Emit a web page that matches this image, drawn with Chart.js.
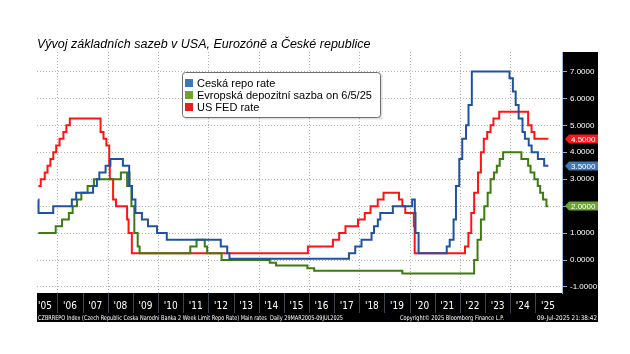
<!DOCTYPE html>
<html><head><meta charset="utf-8">
<script src="https://cdn.jsdelivr.net/npm/chart.js@4.4.1/dist/chart.umd.min.js"></script>
<style>html,body{margin:0;padding:0;background:#fff;overflow:hidden}#wrap{width:630px;height:354px;position:relative}canvas{display:block}</style>
</head><body><div id="wrap"><canvas id="c" width="630" height="354"></canvas></div>
<script>
const titleText = "Vývoj základních sazeb v USA, Eurozóně a České republice";
const seriesLabels = ["Ceská repo rate", "Evropská depozitní sazba on 6/5/25", "US FED rate"];

const czDates = ["2005-03-29","2005-04-01","2005-10-31","2006-07-28","2006-09-29","2007-06-01","2007-07-27","2007-08-31","2007-11-30","2008-02-08","2008-08-08","2008-11-07","2008-12-18","2009-02-06","2009-05-11","2009-08-07","2009-12-17","2010-05-07","2012-06-29","2012-10-01","2012-11-02","2017-08-04","2017-11-03","2018-02-02","2018-06-28","2018-08-03","2018-09-27","2018-11-02","2019-05-03","2020-02-07","2020-03-17","2020-03-27","2020-05-11","2021-06-24","2021-08-06","2021-10-01","2021-11-05","2021-12-23","2022-02-04","2022-03-31","2022-05-06","2022-06-23","2023-12-22","2024-02-09","2024-03-21","2024-05-03","2024-06-28","2024-08-02","2024-09-27","2024-11-08","2025-02-07","2025-05-09","2025-07-09"];
const czRates = [2.25,1.75,2.00,2.25,2.50,2.75,3.00,3.25,3.50,3.75,3.50,2.75,2.25,1.75,1.50,1.25,1.00,0.75,0.50,0.25,0.05,0.25,0.50,0.75,1.00,1.25,1.50,1.75,2.00,2.25,1.75,1.00,0.25,0.50,0.75,1.50,2.75,3.75,4.50,5.00,5.75,7.00,6.75,6.25,5.75,5.25,4.75,4.50,4.25,4.00,3.75,3.50,3.50];

const euDates = ["2005-03-29","2005-12-06","2006-03-08","2006-06-15","2006-08-09","2006-10-11","2006-12-13","2007-03-14","2007-06-13","2008-07-09","2008-10-08","2008-10-09","2008-11-12","2008-12-10","2009-01-21","2009-03-11","2009-04-08","2011-04-13","2011-07-13","2011-11-09","2011-12-14","2012-07-11","2014-06-11","2014-09-10","2015-12-09","2016-03-16","2019-09-18","2022-07-27","2022-09-14","2022-11-02","2022-12-21","2023-02-08","2023-03-22","2023-05-10","2023-06-21","2023-08-02","2023-09-20","2024-06-12","2024-09-18","2024-10-23","2024-12-18","2025-02-05","2025-03-12","2025-04-23","2025-06-11","2025-07-09"];
const euRates = [1.00,1.25,1.50,1.75,2.00,2.25,2.50,2.75,3.00,3.25,2.75,3.25,2.75,2.00,1.00,0.50,0.25,0.50,0.75,0.50,0.25,0.00,-0.10,-0.20,-0.30,-0.40,-0.50,0.00,0.75,1.50,2.00,2.50,3.00,3.25,3.50,3.75,4.00,3.75,3.50,3.25,3.00,2.75,2.50,2.25,2.00,2.00];

const usDates = ["2005-03-29","2005-05-03","2005-06-30","2005-08-09","2005-09-20","2005-11-01","2005-12-13","2006-01-31","2006-03-28","2006-05-10","2006-06-29","2007-09-18","2007-10-31","2007-12-11","2008-01-22","2008-01-30","2008-03-18","2008-04-30","2008-10-08","2008-10-29","2008-12-16","2015-12-16","2016-12-14","2017-03-15","2017-06-14","2017-12-13","2018-03-21","2018-06-13","2018-09-26","2018-12-19","2019-07-31","2019-09-18","2019-10-30","2020-03-03","2020-03-15","2022-03-16","2022-05-04","2022-06-15","2022-07-27","2022-09-21","2022-11-02","2022-12-14","2023-02-01","2023-03-22","2023-05-03","2023-07-26","2024-09-18","2024-11-07","2024-12-18","2025-07-09"];
const usRates = [2.75,3.00,3.25,3.50,3.75,4.00,4.25,4.50,4.75,5.00,5.25,4.75,4.50,4.25,3.50,3.00,2.25,2.00,1.50,1.00,0.25,0.50,0.75,1.00,1.25,1.50,1.75,2.00,2.25,2.50,2.25,2.00,1.75,1.25,0.25,0.50,1.00,1.75,2.50,3.25,4.00,4.50,4.75,5.00,5.25,5.50,5.00,4.75,4.50,4.50];

const yTicks = [-1, 0, 1, 2, 3, 4, 5, 6, 7];
const yearLabels = ["'05","'06","'07","'08","'09","'10","'11","'12","'13","'14","'15","'16","'17","'18","'19","'20","'21","'22","'23","'24","'25"];
const yearLabelPos = [2005.5,2006.5,2007.5,2008.5,2009.5,2010.5,2011.5,2012.5,2013.5,2014.5,2015.5,2016.5,2017.5,2018.5,2019.5,2020.5,2021.5,2022.5,2023.5,2024.5,2025.5];
const gridYears = [2006,2008,2010,2012,2014,2016,2018,2020,2022,2024];
const yearBounds = [2006,2007,2008,2009,2010,2011,2012,2013,2014,2015,2016,2017,2018,2019,2020,2021,2022,2023,2024,2025];
const footerLeft = "CZBRREPO Index (Czech Republic Ceska Narodni Banka 2 Week Limit Repo Rate) Main rates  Daily 29MAR2005-09JUL2025";
const footerMid = "Copyright\u00A9 2025 Bloomberg Finance L.P.";
const footerRight = "09-Jul-2025 21:38:42";

const lineColors = ["#1f52a3", "#3d7c10", "#ff1414"];
const tagColors = ["#3b77b9", "#6aa52c", "#f01c1c"];
const NARROW = "'Liberation Sans Narrow','DejaVu Sans Condensed','Liberation Sans',sans-serif";
const SANS = "'Liberation Sans',Arial,sans-serif";

function toYear(s) {
  const [y, m, d] = s.split('-').map(Number);
  const a = Date.UTC(y, 0, 1), b = Date.UTC(y + 1, 0, 1);
  return y + (Date.UTC(y, m - 1, d) - a) / (b - a);
}
function pts(dates, rates) { return dates.map((d, i) => ({ x: toYear(d), y: rates[i] })); }

const deco = {
  id: 'deco',
  beforeDraw(chart) {
    const ctx = chart.ctx, a = chart.chartArea, xs = chart.scales.x, ys = chart.scales.y;
    ctx.save();
    ctx.fillStyle = '#fff'; ctx.fillRect(0, 0, chart.width, chart.height);
    ctx.fillStyle = '#000';
    ctx.fillRect(a.right, a.top, ys.right - a.right, a.bottom - a.top);
    ctx.fillRect(a.left, a.bottom, ys.right - a.left, xs.bottom - a.bottom);
    ctx.strokeStyle = '#3c4450'; ctx.lineWidth = 1;
    for (const yr of yearBounds) {
      const px = Math.round(xs.getPixelForValue(yr)) + 0.5;
      ctx.beginPath(); ctx.moveTo(px, a.bottom); ctx.lineTo(px, a.bottom + 20); ctx.stroke();
    }
    ctx.strokeStyle = '#b0b0b0'; ctx.setLineDash([1, 2]);
    for (const yr of gridYears) {
      const px = Math.round(xs.getPixelForValue(yr)) + 0.5;
      ctx.beginPath(); ctx.moveTo(px, a.top); ctx.lineTo(px, a.bottom); ctx.stroke();
    }
    ctx.restore();
  },
  afterDraw(chart) {
    const ctx = chart.ctx, a = chart.chartArea, xs = chart.scales.x, ys = chart.scales.y;
    ctx.save();
    // legend
    const lx = 182.5, ly = 72.5, lw = 198, lh = 45;
    ctx.fillStyle = 'rgba(0,0,0,0.12)';
    ctx.fillRect(lx + 2, ly + 2, lw, lh);
    ctx.fillStyle = '#fff'; ctx.strokeStyle = '#6e6e6e'; ctx.lineWidth = 1;
    ctx.beginPath(); ctx.roundRect(lx, ly, lw, lh, 3); ctx.fill(); ctx.stroke();
    ctx.font = "11px " + SANS; ctx.textBaseline = 'middle'; ctx.textAlign = 'left';
    chart.data.datasets.forEach((ds, i) => {
      const ry = 83 + i * 12.2;
      ctx.fillStyle = tagColors[i];
      ctx.fillRect(185, Math.round(ry - 4), 8, 8);
      ctx.fillStyle = '#000';
      ctx.fillText(ds.label, 197, ry + 0.5);
    });
    // value tags
    ctx.font = "8px " + SANS;
    chart.data.datasets.forEach((ds, i) => {
      const v = ds.data[ds.data.length - 1].y;
      const py = Math.round(ys.getPixelForValue(v));
      ctx.fillStyle = tagColors[i];
      ctx.beginPath();
      ctx.moveTo(a.right + 3, py);
      ctx.lineTo(a.right + 7, py - 4.5);
      ctx.lineTo(ys.right, py - 4.5);
      ctx.lineTo(ys.right, py + 4.5);
      ctx.lineTo(a.right + 7, py + 4.5);
      ctx.closePath(); ctx.fill();
      ctx.fillStyle = '#fff';
      ctx.fillText(v.toFixed(4), a.right + 9, py + 0.5);
    });
    // footer
    ctx.fillStyle = '#fff';
    ctx.font = "6.5px " + NARROW;
    const fy = xs.bottom - 4;
    ctx.textAlign = 'left';
    ctx.fillText(footerLeft, a.left + 1, fy, 305);
    ctx.fillText(footerMid, 400, fy, 104);
    ctx.textAlign = 'right';
    ctx.fillText(footerRight, ys.right - 1, fy, 60);
    ctx.restore();
  }
};

new Chart(document.getElementById('c'), {
  type: 'line',
  data: {
    datasets: [
      { label: seriesLabels[0], data: pts(czDates, czRates), borderColor: lineColors[0] },
      { label: seriesLabels[1], data: pts(euDates, euRates), borderColor: lineColors[1] },
      { label: seriesLabels[2], data: pts(usDates, usRates), borderColor: lineColors[2] }
    ]
  },
  options: {
    responsive: false, animation: false, devicePixelRatio: 1,
    elements: { line: { borderWidth: 2, stepped: true, fill: false, tension: 0, borderJoinStyle: 'miter' }, point: { radius: 0 } },
    layout: { padding: { left: 37, right: 32, top: 0, bottom: 32 } },
    plugins: {
      legend: { display: false }, tooltip: { enabled: false },
      title: { display: true, text: titleText, align: 'start', color: '#000',
        font: { family: SANS, size: 12.5, style: 'italic', weight: 'normal' }, padding: { top: 37, bottom: 0 } }
    },
    scales: {
      x: {
        type: 'linear', position: 'bottom', min: 2005.185, max: 2026.06,
        afterBuildTicks: s => { s.ticks = yearLabelPos.map(v => ({ value: v })); },
        afterFit: s => { s.height = 29; },
        ticks: { color: '#fff', font: { family: NARROW, size: 10 }, padding: 7, autoSkip: false, maxRotation: 0,
          callback: (v, i) => yearLabels[i] },
        grid: { display: false, drawTicks: false },
        border: { display: false }
      },
      y: {
        position: 'right', min: -1.223, max: 7.72,
        afterBuildTicks: s => { s.ticks = yTicks.map(v => ({ value: v })); },
        afterFit: s => { s.width = 36; },
        ticks: { color: '#fff', font: { family: SANS, size: 8 }, padding: 3, callback: v => Number(v).toFixed(4) },
        grid: { color: '#b0b0b0', lineWidth: 1, drawTicks: true, tickLength: 5, tickColor: '#8fb0da', tickBorderDash: [] },
        border: { display: true, color: '#9ab8dc', width: 1, dash: [1, 2] }
      }
    }
  },
  plugins: [deco]
});
</script></body></html>
